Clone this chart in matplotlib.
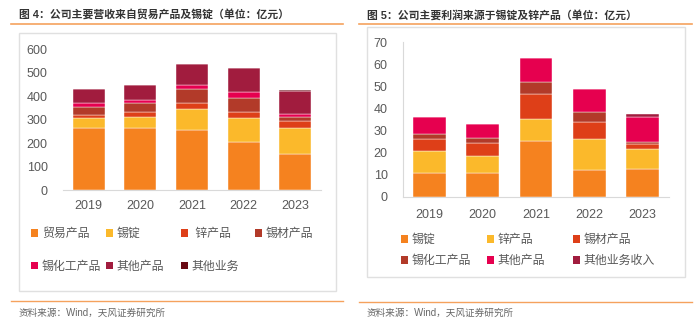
import numpy as np
import matplotlib
matplotlib.use("Agg")
import matplotlib.pyplot as plt
from matplotlib.patches import Rectangle, Patch
from matplotlib.lines import Line2D

plt.rcParams.update({
    "font.family": ["Liberation Sans", "Noto Sans CJK SC", "DejaVu Sans"],
    "axes.unicode_minus": False,
})

years = ["2019", "2020", "2021", "2022", "2023"]

# fig 4: revenue by segment (亿元)
rev_labels = ["贸易产品", "锡锭", " 锌产品", "锡材产品", "锡化工产品", "其他产品", "其他业务"]
rev_trade = [263, 266, 256, 205, 154]
rev_ingot = [43, 47, 90, 101, 112]
rev_zinc = [14, 18, 24, 28, 28]
rev_tinmat = [35, 39, 59, 60, 19]
rev_tinchem = [15, 14, 19, 25, 11]
rev_otherprod = [59, 64, 89, 100, 100]
rev_otherbiz = [0, 0, 0, 0, 3]
rev_colors = ["#F5821F", "#FBB92B", "#DE3F18", "#B23A29", "#E6004F", "#A11C3E", "#6A0A14"]

# fig 5: gross profit by segment (亿元)
gp_labels = ["锡锭", "锌产品", "锡材产品", "锡化工产品", "其他产品", "其他业务收入"]
gp_ingot = [10.9, 10.9, 25.4, 12.1, 12.5]
gp_zinc = [9.8, 7.5, 9.7, 13.9, 9.3]
gp_tinmat = [5.3, 5.8, 11.5, 7.7, 2.1]
gp_tinchem = [2.4, 2.3, 5.3, 4.9, 1.0]
gp_otherprod = [7.9, 6.3, 10.8, 10.1, 11.4]
gp_otherbiz = [0, 0, 0, 0, 1.2]
gp_colors = ["#F5821F", "#FBB92B", "#DE3F18", "#B23A29", "#E6004F", "#A11C3E"]

W, H = 700, 324
fig = plt.figure(figsize=(7.0, 3.24), dpi=100)
fx = lambda p: p / W
fy = lambda p: 1 - p / H

GRID = "#D9D9D9"
TXT = "#595959"
ACC = "#F5A25D"


def stack(ax, series, colors):
    x = np.arange(len(years))
    bottom = np.zeros(len(years))
    for vals, c in zip(series, colors):
        vals = np.array(vals, dtype=float)
        ax.bar(x, vals, 0.62, bottom=bottom, color=c, edgecolor="white", linewidth=0.3)
        bottom += vals
    ax.set_xlim(-0.5, len(years) - 0.5)
    ax.set_xticks(x)
    ax.set_xticklabels(years)
    for s in ["top", "right"]:
        ax.spines[s].set_visible(False)
    ax.spines["bottom"].set_color(GRID)
    ax.tick_params(length=0, colors=TXT, labelsize=9)


def frame(x0, x1, ytitle, ybox0, ybox1, yline2, ysrc, title):
    fig.text(fx(x0 + 8), fy(ytitle), title, fontsize=7.8, fontweight="bold",
             color="#333333", va="center", ha="left")
    fig.add_artist(Line2D([fx(x0), fx(x1)], [fy(24), fy(24)], color=ACC, lw=1.2))
    fig.add_artist(Rectangle((fx(x0 + 8), fy(ybox1)), fx(x1 - x0 - 15), (ybox1 - ybox0) / H,
                             fill=False, edgecolor="#E0E0E0", lw=1.0))
    fig.add_artist(Line2D([fx(x0), fx(x1)], [fy(yline2), fy(yline2)], color=ACC, lw=1.0))
    fig.text(fx(x0 + 8), fy(ysrc), "资料来源：Wind，天风证券研究所", fontsize=6.9,
             color="#666666", va="center", ha="left")


def col_legend(labels, colors, x, y, gap):
    handles = [Patch(facecolor=c, edgecolor="none") for c in colors]
    fig.legend(handles, labels, loc="upper left", bbox_to_anchor=(fx(x), fy(y)),
               frameon=False, fontsize=8.6, handlelength=0.6, handleheight=0.6,
               handletextpad=0.3, labelspacing=gap, borderpad=0, borderaxespad=0,
               labelcolor=TXT)


# ---- left panel ----
frame(11, 343, 15, 33, 291, 301, 313, "图 4：公司主要营收来自贸易产品及锡锭（单位：亿元）")
ax1 = fig.add_axes([fx(63), 1 - 190 / H, fx(321 - 63), (190 - 49.3) / H])
stack(ax1, [rev_trade, rev_ingot, rev_zinc, rev_tinmat, rev_tinchem, rev_otherprod, rev_otherbiz],
      rev_colors)
ax1.set_ylim(0, 600)
ax1.set_yticks(range(0, 601, 100))
ax1.spines["left"].set_visible(False)
ax1.tick_params(axis="y", pad=11)
ax1.tick_params(axis="x", pad=7)

lx = [31, 106, 181, 255]
for k, xx in enumerate(lx):
    idx = [i for i in (k, k + 4) if i < len(rev_labels)]
    col_legend([rev_labels[i] for i in idx], [rev_colors[i] for i in idx], xx, 228, 1.75)

# ---- right panel ----
frame(359, 692, 15, 27, 277, 302, 313, "图 5：公司主要利润来源于锡锭及锌产品（单位：亿元）")
ax2 = fig.add_axes([fx(403), 1 - 196.7 / H, fx(669 - 403), (196.7 - 42.3) / H])
stack(ax2, [gp_ingot, gp_zinc, gp_tinmat, gp_tinchem, gp_otherprod, gp_otherbiz], gp_colors)
ax2.set_ylim(0, 70)
ax2.set_yticks(range(0, 71, 10))
ax2.spines["left"].set_color(GRID)
ax2.tick_params(axis="y", pad=11)
ax2.tick_params(axis="x", pad=9)

rx = [401, 487, 573]
for k, xx in enumerate(rx):
    idx = [k, k + 3]
    col_legend([gp_labels[i] for i in idx], [gp_colors[i] for i in idx], xx, 234, 0.75)

fig.savefig("out.png", dpi=100)
